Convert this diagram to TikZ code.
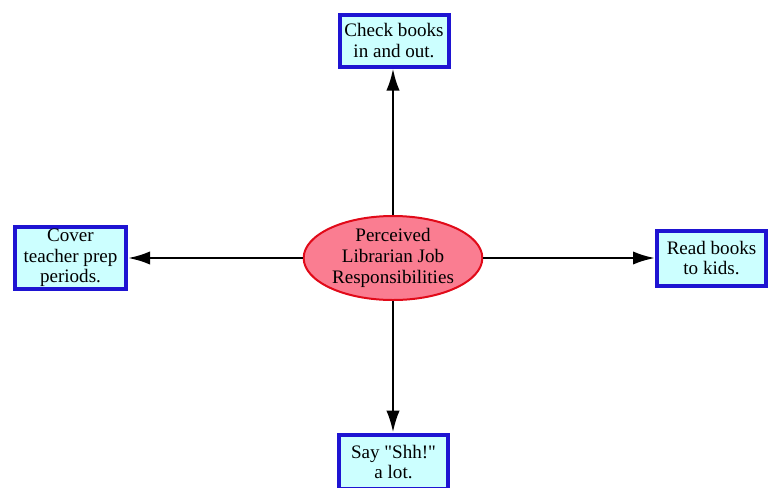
\documentclass[tikz,border=0pt]{standalone}
\usepackage{fontspec}
\setmainfont{Liberation Serif}
\usetikzlibrary{shapes.geometric,arrows.meta}
\definecolor{boxblue}{RGB}{30,20,210}
\definecolor{boxfill}{RGB}{204,255,255}
\definecolor{hubpink}{RGB}{250,125,145}
\definecolor{hubred}{RGB}{225,10,25}
\tikzset{
	% ------- every something
	every node/.style={
		font=\fontsize{14.3}{15.5}\selectfont,
		align=center,
	},
	% ------- custom
	duty/.style={
		draw=boxblue,
		line width=3pt,
		fill=boxfill,
		inner sep=0pt,
		minimum width=81.75pt,
		minimum height=39pt,
	},
	hub/.style={
		ellipse,
		draw=hubred,
		line width=1.5pt,
		fill=hubpink,
		inner sep=0pt,
		minimum width=134pt,
		minimum height=63pt,
	},
	link/.style={
		line width=2pt,
		-{Latex[length=16.5pt,width=10pt]},
	},
}
\begin{document}
\begin{tikzpicture}[x=0.75pt,y=-0.75pt]

% frame %{{{2

	\useasboundingbox (0,0) rectangle (769,487);

% nodes %{{{2

	\node[hub] (hub) at (393,258) {Perceived\\Librarian Job\\Responsibilities};

	\node[duty] (check) at (394,40.5) {Check books\\in and out.};
	\node[duty, minimum width=83.25pt, minimum height=46.5pt] (cover) at (70.5,258) {Cover\\teacher prep\\periods.};
	\node[duty, minimum height=41.25pt] (read) at (711.5,258) {Read books\\to kids.};
	\node[duty, minimum height=41pt] (shh) at (393.5,462) {Say \textquotedbl Shh!\textquotedbl\\a lot.};

% arrows %{{{2

	\draw[link] (hub.north) -- (hub.north |- check.south);
	\draw[link] (hub.south) -- (hub.south |- shh.north);
	\draw[link] (hub.west) -- (cover.east);
	\draw[link] (hub.east) -- (read.west);

% closing %{{{2

\end{tikzpicture}
\end{document}
